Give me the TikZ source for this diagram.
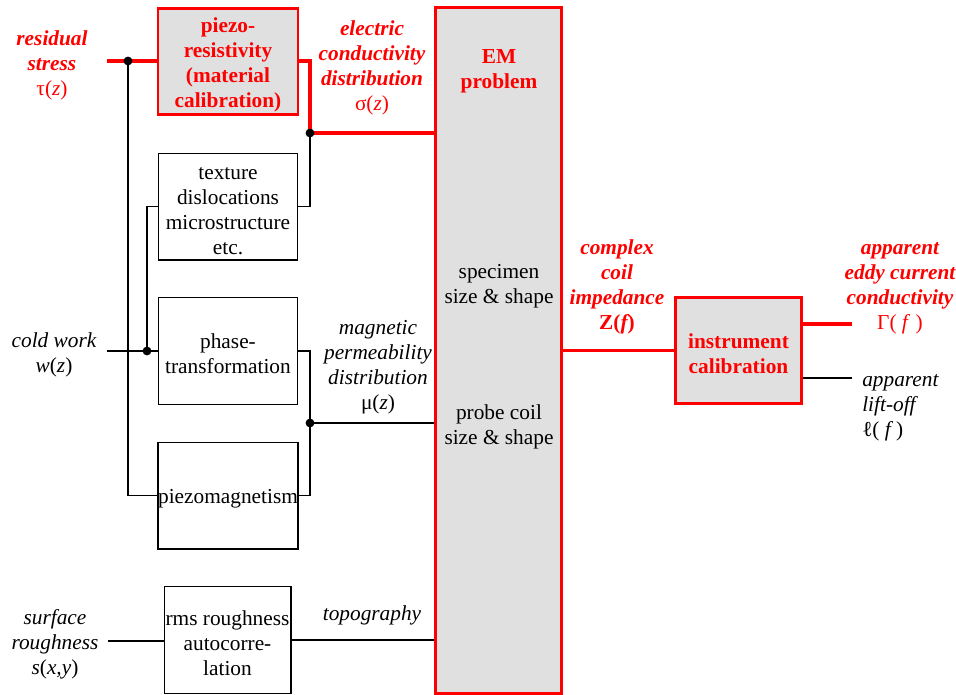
\documentclass[tikz,border=0pt]{standalone}
\usepackage{fontspec}
\setmainfont{Liberation Serif}
\usetikzlibrary{positioning}
\definecolor{boxgray}{RGB}{224,224,224}
\newcommand{\tstrut}{\rule{0pt}{15.5pt}}

\begin{document}
\begin{tikzpicture}[x=0.75pt, y=-0.75pt, node distance=27.3pt,
    every node/.style={font=\fontsize{16}{18.75}\selectfont, align=center, inner sep=0pt, execute at begin node={\tstrut}},
    block/.style={draw, line width=1pt, minimum width=104pt, minimum height=80pt},
    redblock/.style={draw=red, fill=boxgray, line width=2.2pt, text=red, minimum width=95pt, minimum height=80pt, font=\fontsize{16}{18.75}\selectfont\bfseries},
    quantity/.style={font=\fontsize{16}{18.75}\selectfont\itshape},
    redquantity/.style={text=red, font=\fontsize{16}{18.75}\selectfont\bfseries\itshape}]
    \useasboundingbox (0,0) rectangle (956,695);
    \node[redblock, minimum width=105pt] (piezo) at (228,61.5) {\tstrut piezo-\\resistivity\\(material\\calibration)};
    \node[block] (texture) [below=of piezo] {\tstrut texture\\dislocations\\microstructure\\etc.};
    \node[block] (phase) [below=of texture] {\tstrut phase-\\transformation};
    \node[block] (piezomag) [below=of phase] {piezomagnetism};
    \node[block, minimum width=95pt] (rms) at (227.5,640) {\tstrut rms roughness\\autocorre-\\lation};
    \node[redblock, minimum height=514pt] (em) at (498.5,350.5) {};
    \node[text=red, font=\fontsize{16}{18.75}\selectfont\bfseries] (emtitle) at (499,68) {\tstrut EM\\problem};
    \node (specimen) at (499,283) {\tstrut specimen\\size \& shape};
    \node (probe) at (499,424) {\tstrut probe coil\\size \& shape};
    \node[redblock] (instr) at (738.5,350.5) {\tstrut instrument\\calibration};
    \node[redquantity] (stress) at (52,62) {\tstrut residual\\stress\\{\mdseries\upshape τ(\textit{z})}};
    \node[redquantity] (sigma) at (372,65) {\tstrut electric\\conductivity\\distribution\\{\mdseries\upshape σ(\textit{z})}};
    \node[quantity] (mu) at (378,364) {\tstrut magnetic\\permeability\\distribution\\{\upshape μ(}z{\upshape)}};
    \node[quantity] (cold) at (54,352) {\tstrut cold work\\w{\upshape(}z{\upshape)}};
    \node[quantity] (rough) at (55,641) {\tstrut surface\\roughness\\s{\upshape(}x,y{\upshape)}};
    \node[quantity] (topo) at (372,612) {topography};
    \node[redquantity] (imp) at (617,284) {\tstrut complex\\coil\\impedance\\{\upshape Z(}f{\upshape)}};
    \node[redquantity] (gamma) at (900,284) {\tstrut apparent\\eddy current\\conductivity\\{\mdseries\upshape Γ( \textit{f} )}};
    \node[quantity, align=left, anchor=west] (lift) at (862,403) {\tstrut apparent\\lift-off\\{\upshape ℓ(} f {\upshape)}};
    \coordinate (instress) at (107,61);
    \coordinate (jstress) at (128,61);
    \coordinate (jsigma) at (310,133);
    \coordinate (incold) at (107,351);
    \coordinate (jcold) at (147,351);
    \coordinate (jmu) at (310,423);
    \coordinate (inrough) at (108,641);
    \coordinate (outgamma) at (852,324);
    \coordinate (outlift) at (852,378);
\begin{scope}[line width=1pt]
    \draw (jstress) |- (piezomag.west);
    \draw (incold) -- (incold -| phase.west);
    \draw (jcold) |- (texture.west);
    \draw (texture.east) -| (jsigma);
    \draw (phase.east) -| (jmu) -- (jmu -| em.west);
    \draw (piezomag.east) -| (jmu);
    \draw (inrough) -- (inrough -| rms.west);
    \draw (rms.east) -- (rms.east -| em.west);
    \draw (outlift -| instr.east) -- (outlift);
\end{scope}
\begin{scope}[red, line width=2.4pt]
    \draw (instress) -- (instress -| piezo.west);
    \draw (piezo.east |- jstress) -| (jsigma) -- (jsigma -| em.west);
    \draw (instr.west -| em.east) -- (instr.west);
    \draw (outgamma -| instr.east) -- (outgamma);
\end{scope}
    \foreach \j in {jstress,jsigma,jcold,jmu} \fill (\j) circle (3.3pt);
\end{tikzpicture}
\end{document}
